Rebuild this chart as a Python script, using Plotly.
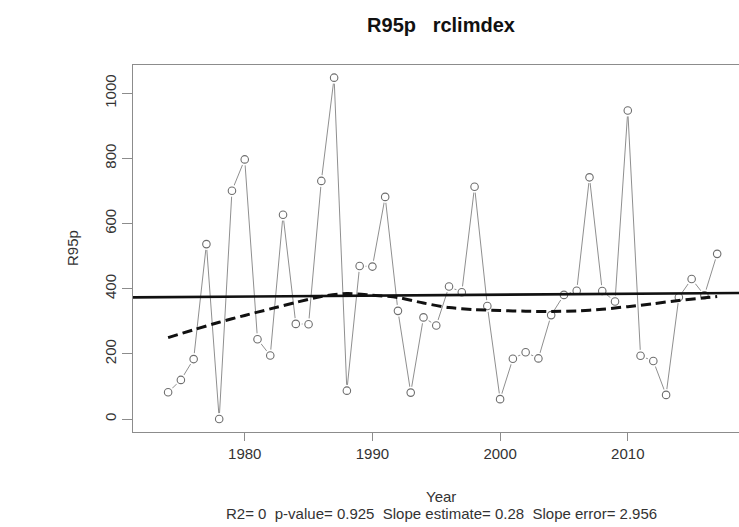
import numpy as np
import plotly.graph_objects as go

# ---- data ----
years = list(range(1974, 2018))
r95p = [82, 120, 184, 537, 0, 701, 797, 245, 195, 627,
        292, 291, 731, 1048, 87, 470, 468, 682, 332, 81,
        312, 287, 407, 389, 713, 347, 61, 185, 205, 186,
        319, 381, 394, 742, 393, 361, 947, 194, 178, 74,
        374, 430, 380, 507]

loess_years = [1974, 1976, 1978, 1980, 1982, 1984, 1986, 1988, 1990, 1992,
               1994, 1996, 1998, 2000, 2002, 2004, 2006, 2008, 2010, 2012,
               2014, 2016, 2017]
loess_values = [250, 274, 297, 318, 338, 358, 376, 385, 380, 373,
                356, 342, 336, 333, 331, 330, 332, 337, 345, 354,
                364, 372, 376]

slope_estimate = 0.28
stats_text = "R2= 0  p-value= 0.925  Slope estimate= 0.28  Slope error= 2.956"
title_text = "R95p   rclimdex"
x_ticks = [1980, 1990, 2000, 2010]
y_ticks = [0, 200, 400, 600, 800, 1000]

# ---- layout geometry ----
W, H = 739, 527
L, T, B = 133, 65, 432
PW, PH = W - L, B - T
x_range = [1971.25, 2018.71]
y_range = [-39.9, 1086.9]

def px_x(px):
    return (px - L) / PW

def px_y(py):
    return (B - py) / PH

# linear trend through the mean with the reported slope
yr = np.array(years, dtype=float)
vals = np.array(r95p, dtype=float)
xm, ym = yr.mean(), vals.mean()
trend_x = np.array(x_range)
trend_y = ym + slope_estimate * (trend_x - xm)

FONT = "Liberation Sans, Arial, Helvetica, sans-serif"

fig = go.Figure()
fig.add_trace(go.Scatter(x=years, y=r95p, mode="lines",
                         line=dict(color="#8f8f8f", width=1.0),
                         hoverinfo="skip", showlegend=False))
fig.add_trace(go.Scatter(x=years, y=r95p, mode="markers",
                         marker=dict(size=12, color="white", line=dict(width=0)),
                         hoverinfo="skip", showlegend=False))
fig.add_trace(go.Scatter(x=years, y=r95p, mode="markers",
                         marker=dict(size=7.5, color="white", symbol="circle",
                                     line=dict(color="#6e6e6e", width=1.1)),
                         showlegend=False))
fig.add_trace(go.Scatter(x=trend_x, y=trend_y, mode="lines",
                         line=dict(color="#111111", width=2.6),
                         showlegend=False))
fig.add_trace(go.Scatter(x=loess_years, y=loess_values, mode="lines",
                         line=dict(color="#111111", width=3, dash="10px,5px",
                                   shape="spline", smoothing=0.8),
                         showlegend=False))

fig.update_layout(
    width=W, height=H,
    margin=dict(l=L, r=0, t=T, b=H - B, pad=0),
    paper_bgcolor="white", plot_bgcolor="white",
    font=dict(family=FONT, size=15, color="#333333"),
    title=dict(text="<b>" + title_text.replace(" ", "&nbsp;") + "</b>",
               x=441 / W, xref="container", xanchor="center",
               y=1 - 25 / H, yref="container", yanchor="middle",
               font=dict(family=FONT, size=20, color="#111111")),
    xaxis=dict(range=x_range, tickvals=x_ticks, ticktext=[str(v) for v in x_ticks],
               showgrid=False, zeroline=False,
               showline=True, mirror=True, linecolor="#8c8c8c", linewidth=1.3,
               ticks="outside", ticklen=8, tickwidth=1.1, tickcolor="#8c8c8c",
               tickfont=dict(size=15, color="#333333")),
    yaxis=dict(range=y_range, tickvals=y_ticks, ticktext=[str(v) for v in y_ticks],
               showgrid=False, zeroline=False,
               showline=True, mirror=False, linecolor="#8c8c8c", linewidth=1.3,
               ticks="outside", ticklen=10, tickwidth=1.1, tickcolor="#8c8c8c",
               tickangle=-90,
               tickfont=dict(size=15, color="#333333")),
    annotations=[
        dict(text="R95p", xref="paper", yref="paper", x=px_x(72), y=px_y(248),
             xanchor="center", yanchor="middle", textangle=-90, showarrow=False,
             font=dict(size=15, color="#333333")),
        dict(text="Year", xref="paper", yref="paper", x=px_x(441), y=px_y(496.5),
             xanchor="center", yanchor="middle", showarrow=False,
             font=dict(size=15, color="#333333")),
        dict(text=stats_text.replace(" ", "&nbsp;"), xref="paper", yref="paper",
             x=px_x(441), y=px_y(513),
             xanchor="center", yanchor="middle", showarrow=False,
             font=dict(size=15, color="#333333")),
    ],
)

fig.write_html("out.html", config={"displayModeBar": False})
